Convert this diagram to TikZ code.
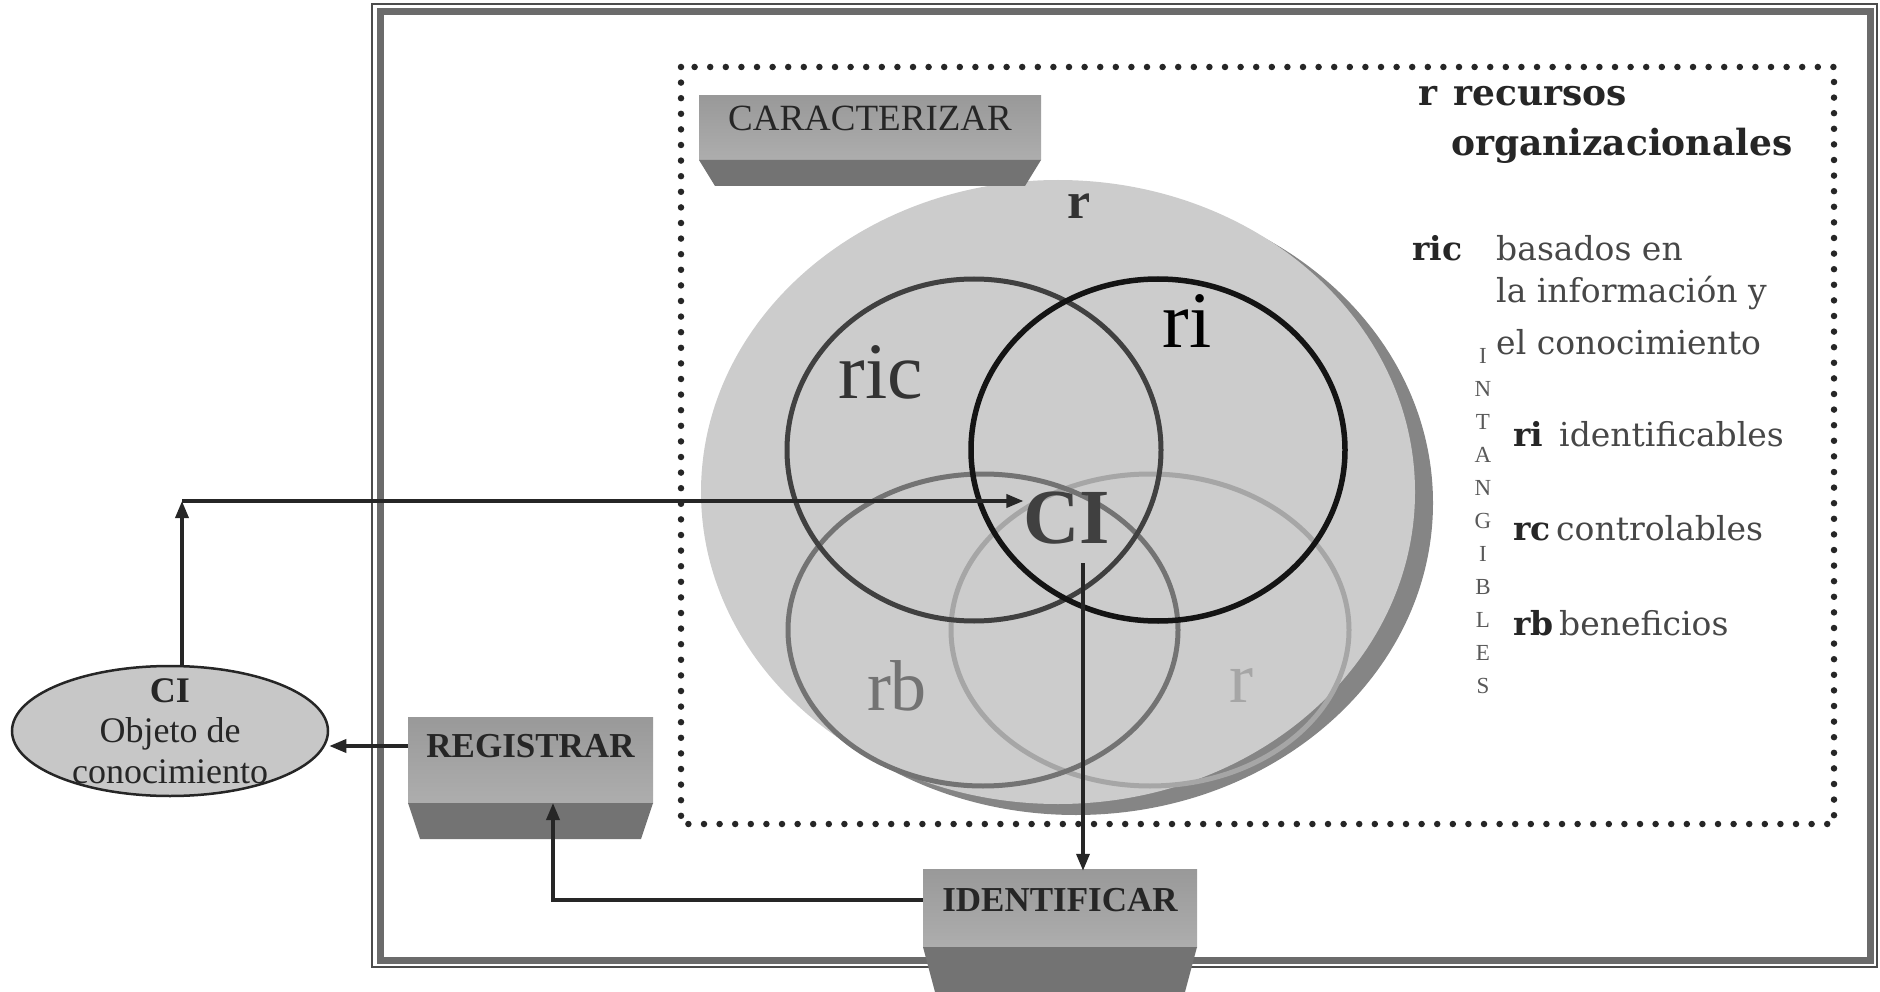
\documentclass[tikz,border=0pt]{standalone}
\usepackage{fontspec}
\setmainfont{Liberation Serif}
\newfontfamily\legfont{DejaVu Serif}
\usetikzlibrary{arrows.meta,shapes.geometric,calc}
\newcommand{\bevbox}[6]{%
  \shade[top color=black!40, middle color=black!10, bottom color=black!32] (#1,#2) rectangle (#3,#4);
  \fill[black!55] (#1,#4) -- (#3,#4) -- ({#3-#6},#5) -- ({#1+#6},#5) -- cycle;
}
\begin{document}
\begin{tikzpicture}[x=1pt,y=-1pt,
  arr/.style={draw=black!85, line width=3.5pt, -{Triangle[length=17pt,width=13pt]}},
  boxtxt/.style={inner sep=0pt, text=black!85, minimum height=58},
  vlbl/.style={inner sep=0pt},
  legb/.style={inner sep=0pt, text=black!85, font=\legfont\bfseries\fontsize{36}{40}\selectfont},
  legr/.style={inner sep=0pt, text=black!72, font=\legfont\fontsize{33}{40}\selectfont},
  legs/.style={inner sep=0pt, text=black!85, font=\legfont\bfseries\fontsize{33}{40}\selectfont}]
\useasboundingbox (0,0) rectangle (1880,992);
% frame
\draw[black!70, line width=1.5pt] (372,4) rectangle (1877,967);
\draw[black!58, line width=7pt] (380,12) rectangle (1870,960);
% dotted region
\draw[black!85, line width=6.5pt, line cap=round, dash pattern=on 0pt off 15.6pt] (681,67) rectangle (1834,824);
% disc
\fill[black!48] (1076,503) ellipse [x radius=357, y radius=312];
\fill[black!20] (1058,492) ellipse [x radius=357, y radius=312];
% venn circles
\draw[black!35, line width=5pt] (1150,630) ellipse [x radius=199, y radius=156];
\draw[black!55, line width=5pt] (983,630) ellipse [x radius=195, y radius=156];
\draw[black!75, line width=5pt] (974,450) ellipse [x radius=187, y radius=171];
\draw[black!92, line width=5.5pt] (1158,450) ellipse [x radius=187, y radius=171];
% boxes
\bevbox{699}{96}{1041}{160}{186}{16}
\bevbox{408}{717}{653}{803}{839}{12}
\bevbox{923}{869}{1197}{947}{992}{12}
\node[boxtxt, font=\fontsize{37}{40}\selectfont, minimum width=342] (car) at (870,118) {CARACTERIZAR};
\node[boxtxt, font=\bfseries\fontsize{35}{40}\selectfont, minimum width=245] (reg) at (530.5,746) {REGISTRAR};
\node[boxtxt, font=\bfseries\fontsize{35}{40}\selectfont, minimum width=274] (ide) at (1060,900) {IDENTIFICAR};
% CI ellipse
\node[draw=black!85, line width=2.5pt, fill=black!22, ellipse, minimum width=316, minimum height=130, inner sep=0pt] (obj) at (170,731) {};
\node[inner sep=0pt, font=\fontsize{36}{40.5}\selectfont, align=center, text=black!85] (objtxt) at (170,731) {\textbf{CI}\\Objeto de\\conocimiento};
% venn labels
\node[vlbl, font=\bfseries\fontsize{52}{52}\selectfont, text=black!80] (rtop) at (1079,206) {r};
\node[vlbl, font=\fontsize{80}{80}\selectfont, text=black!80] (lblric) at (881,372) {ric};
\node[vlbl, font=\fontsize{80}{80}\selectfont, text=black] (lblri) at (1187,321) {ri};
\node[vlbl, font=\bfseries\fontsize{78}{78}\selectfont, text=black!75] (CI) at (1067,518) {CI};
\node[vlbl, font=\fontsize{72}{72}\selectfont, text=black!55] (lblrb) at (897,686) {rb};
\node[vlbl, font=\fontsize{72}{72}\selectfont, text=black!35] (lblrc) at (1241,686) {r};
% connectors
\coordinate (turn) at (182,501);
\draw[arr] (obj.north -| turn) -- (turn);
\draw[arr] (turn) -- (turn -| CI.west);
\coordinate (ciDown) at (1083,563);
\draw[arr] (ciDown) -- (ciDown |- ide.north);
\coordinate (regIn) at (553,803);
\draw[arr] (ide.west) -| (regIn);
\draw[arr] (reg.west) -- (reg.west -| obj.east);
% legend
\node[legb, anchor=base west] (lr) at (1418,106) {r};
\node[legb, anchor=base west] (lrec) at (1453,106) {recursos};
\node[legb, anchor=base west] (lorg) at (1451,156) {organizacionales};
\node[legs, anchor=base west] (lric) at (1412,261) {ric};
\node[legr, anchor=base west] (lbas) at (1496,261) {basados en};
\node[legr, anchor=base west] (linf) at (1496,303) {la información y};
\node[legr, anchor=base west] (lcon) at (1496,355) {el conocimiento};
\node[legs, anchor=base west] (lri) at (1513,446) {ri};
\node[legr, anchor=base west] (lide) at (1559,446) {identificables};
\node[legs, anchor=base west] (lrc) at (1513,540) {rc};
\node[legr, anchor=base west] (lctl) at (1556,540) {controlables};
\node[legs, anchor=base west] (lrb) at (1513,635) {rb};
\node[legr, anchor=base west] (lben) at (1559,635) {beneficios};
\node[inner sep=0pt, font=\fontsize{23}{33}\selectfont, align=center, text=black!65] (intang) at (1483,521) {I\\N\\T\\A\\N\\G\\I\\B\\L\\E\\S};
\end{tikzpicture}
\end{document}
